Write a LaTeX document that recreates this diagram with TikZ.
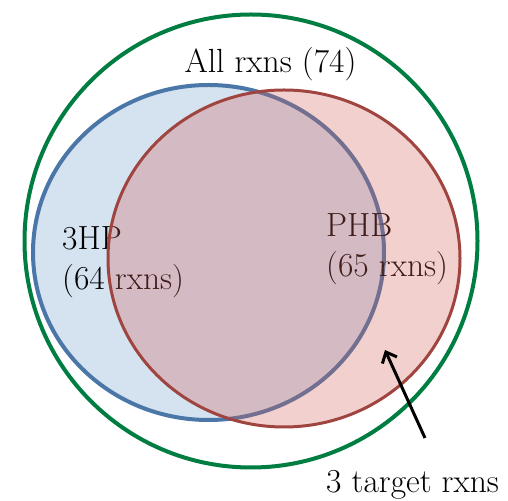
\documentclass[tikz,border=0pt]{standalone}
\usetikzlibrary{arrows.meta}
\definecolor{allgreen}{RGB}{0,125,65}
\definecolor{hpblue}{RGB}{74,118,168}
\definecolor{hpfill}{RGB}{213,226,240}
\definecolor{phbred}{RGB}{160,68,64}
\definecolor{phbfill}{RGB}{212,98,92}
\begin{document}
\begin{tikzpicture}[x=1pt, y=1pt,
        lbl/.style={font=\fontsize{33.5}{40}\selectfont, inner sep=0pt, align=left}]
            \useasboundingbox (0,0) rectangle (508,500);
            \draw[allgreen, line width=4pt] (251,259) circle (226.5);
            \draw[hpblue, fill=hpfill, line width=4pt] (208.5,247.5) ellipse [x radius=175.5, y radius=167.5];
            \node[lbl, anchor=base] (all) at (270.5,427) {All rxns (74)};
            \node[lbl, anchor=base west] (hp) at (62,210) {3HP\\(64 rxns)};
            \node[lbl, anchor=base west] (phb) at (326,223) {PHB\\(65 rxns)};
            % red set on top, see-through
            \draw[phbred, line width=3pt, fill=phbfill, fill opacity=0.3] (284,241.5) ellipse [x radius=176, y radius=168.5];
            \node[lbl, anchor=base west] (tgt) at (326,7) {3 target rxns};
            \coordinate (tail) at (425,62);
            \coordinate (hit) at (385,150);
            \draw[line width=3pt, -{Straight Barb[length=9pt, width=16pt]}] (tail) -- (hit);
        \end{tikzpicture}
\end{document}
